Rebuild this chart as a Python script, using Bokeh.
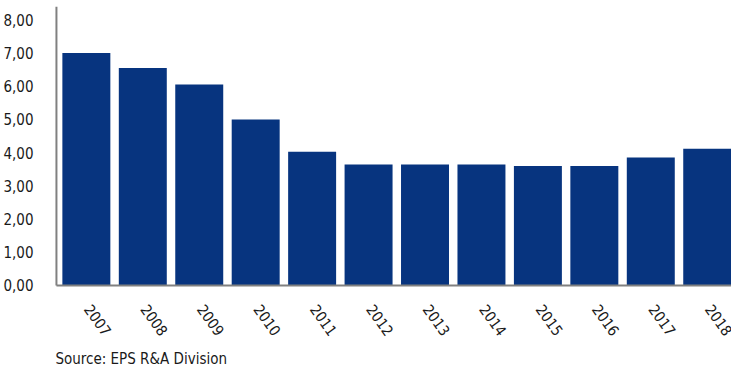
from bokeh.plotting import figure
from bokeh.models import Range1d, FixedTicker
from bokeh.core.properties import value
from bokeh.embed import file_html
from bokeh.resources import INLINE

years = ["2007", "2008", "2009", "2010", "2011", "2012", "2013", "2014", "2015", "2016", "2017", "2018"]
values = [7.00, 6.55, 6.05, 5.00, 4.03, 3.64, 3.64, 3.64, 3.60, 3.60, 3.85, 4.12]
y_ticks = [0, 1, 2, 3, 4, 5, 6, 7, 8]
y_tick_labels = ["0,00", "1,00", "2,00", "3,00", "4,00", "5,00", "6,00", "7,00", "8,00"]
source_text = "Source: EPS R&A Division"

FONT = "DejaVu Sans Condensed"
BAR = "#07347F"
TXT = "#1a1a1a"
AXIS = "#808080"

xs = list(range(len(years)))
X_LEFT = -0.53    # where the value axis sits
X_END = 11.43
Y_TOP = 8.4

p = figure(width=731, height=369, output_backend="svg", toolbar_location=None,
           x_range=Range1d(-0.777, X_END), y_range=Range1d(-2.53, Y_TOP),
           min_border_left=40, min_border_right=0, min_border_top=6, min_border_bottom=0)
p.vbar(x=xs, top=values, width=0.85, color=BAR, line_color=None)

# axis lines
p.segment(x0=[X_LEFT, X_LEFT], y0=[0, 0], x1=[X_END, X_LEFT], y1=[0, Y_TOP],
          line_color=AXIS, line_width=2)

p.xgrid.visible = False
p.ygrid.visible = False
p.xaxis.visible = False
p.outline_line_color = None
p.background_fill_color = "white"
p.border_fill_color = "white"

p.yaxis.ticker = FixedTicker(ticks=y_ticks)
p.yaxis.major_label_overrides = {t: l for t, l in zip(y_ticks, y_tick_labels)}
p.yaxis.axis_line_color = None
p.yaxis.major_tick_line_color = None
p.yaxis.minor_tick_line_color = None
p.yaxis.major_label_text_font = FONT
p.yaxis.major_label_text_font_size = "15px"
p.yaxis.major_label_text_color = TXT
p.yaxis.major_label_standoff = 3

# year labels, rotated
p.text(x=[x + 0.12 for x in xs], y=[-0.51] * len(xs), text=years, angle=-0.95,
       text_align="left", text_baseline="top", text_font=value(FONT),
       text_font_size="15px", text_color=TXT)

# source note
p.text(x=[-0.548], y=[-2.2], text=[source_text], text_align="left", text_baseline="middle",
       text_font=value(FONT), text_font_size="15px", text_color=TXT)

open("out.html", "w").write(file_html(p, INLINE))
